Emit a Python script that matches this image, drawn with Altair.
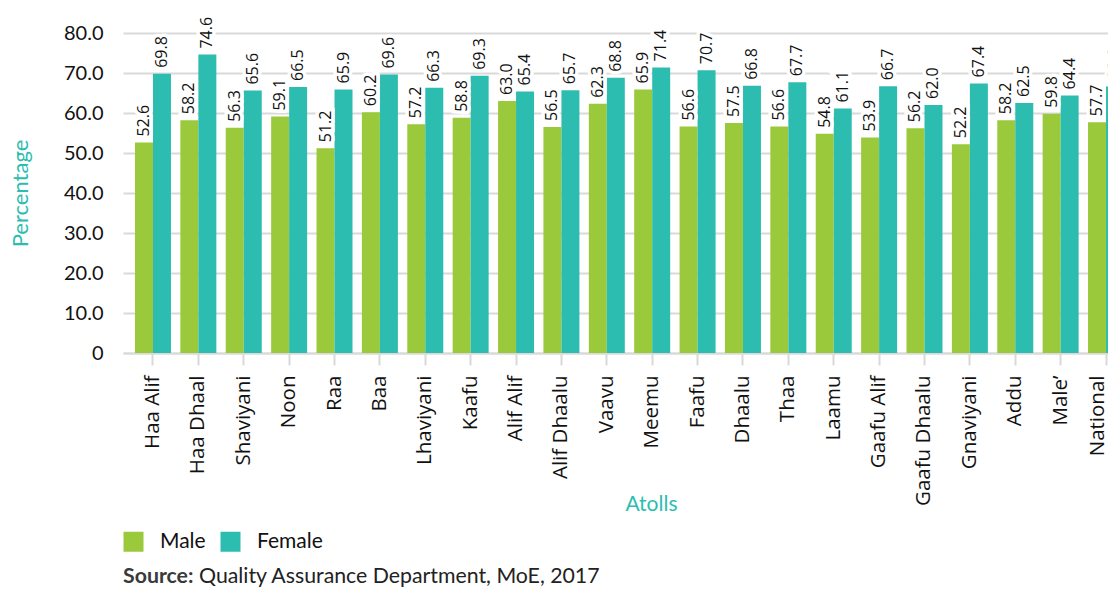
import altair as alt
import pandas as pd

atolls = ["Haa Alif", "Haa Dhaal", "Shaviyani", "Noon", "Raa", "Baa", "Lhaviyani",
          "Kaafu", "Alif Alif", "Alif Dhaalu", "Vaavu", "Meemu", "Faafu", "Dhaalu",
          "Thaa", "Laamu", "Gaafu Alif", "Gaafu Dhaalu", "Gnaviyani", "Addu",
          "Male\u2019", "National"]
male = [52.6, 58.2, 56.3, 59.1, 51.2, 60.2, 57.2, 58.8, 63.0, 56.5, 62.3,
        65.9, 56.6, 57.5, 56.6, 54.8, 53.9, 56.2, 52.2, 58.2, 59.8, 57.7]
female = [69.8, 74.6, 65.6, 66.5, 65.9, 69.6, 66.3, 69.3, 65.4, 65.7, 68.8,
          71.4, 70.7, 66.8, 67.7, 61.1, 66.7, 62.0, 67.4, 62.5, 64.4, 66.6]
genders = ["Male", "Female"]
colors = ["#9BC93C", "#2CBDB0"]
y_ticks = [0, 10, 20, 30, 40, 50, 60, 70, 80]

rows = []
for a, m, f in zip(atolls, male, female):
    rows.append({"Atoll": a, "Gender": "Male", "Value": m})
    rows.append({"Atoll": a, "Gender": "Female", "Value": f})
df = pd.DataFrame(rows)

x_enc = alt.X(
    "Atoll:N", sort=atolls,
    scale=alt.Scale(range=[0, 1013], paddingInner=0.207, paddingOuter=0.264),
    axis=alt.Axis(
        title="Atolls", titleColor="#2CBDB0", titleFont="Lato", titleFontSize=21,
        titleFontWeight="normal", titleX=528, titleY=151, titleAlign="center",
        titleBaseline="middle", labelAngle=270, labelFont="Open Sans",
        labelFontSize=20.5, labelColor="#111111", labelPadding=10, tickSize=12,
        tickColor="#d9d9d9", tickWidth=2, domainColor="#d9d9d9", domainWidth=2,
        grid=False, labelAlign="right", labelBaseline="middle",
        labelOffset={"condition": {"test": "datum.value === 'National'", "value": -8},
                     "value": 0},
    ),
)
xo_enc = alt.XOffset("Gender:N", sort=genders,
                     scale=alt.Scale(paddingInner=0, paddingOuter=0))
y_enc = alt.Y(
    "Value:Q",
    scale=alt.Scale(domain=[0, 80], nice=False),
    axis=alt.Axis(
        values=y_ticks,
        labelExpr="datum.value == 0 ? '0' : format(datum.value, '.1f')",
        title="Percentage", titleColor="#2CBDB0", titleFont="Lato",
        titleFontSize=22, titleFontWeight="normal", titleAngle=270,
        titleX=-103, titleY=160, titleAlign="center", titleBaseline="middle",
        labelFont="Lato", labelFontSize=20, labelColor="#111111",
        labelPadding=20, ticks=False, domain=False, grid=True,
        gridColor="#d9d9d9", gridWidth=2,
    ),
)

base = alt.Chart(df)

bars = base.mark_bar().encode(
    x=x_enc, xOffset=xo_enc, y=y_enc,
    color=alt.Color(
        "Gender:N", sort=genders,
        scale=alt.Scale(domain=genders, range=colors),
        legend=alt.Legend(
            title=None, orient="none", legendX=0, legendY=498,
            direction="horizontal", symbolType="square", symbolSize=400,
            symbolStrokeWidth=0, labelFont="Lato", labelFontSize=21,
            labelColor="#111111", labelOffset=16, columnPadding=14, padding=0,
        ),
    ),
)

halo = base.mark_text(
    angle=270, align="left", baseline="middle", dx=6, font="Open Sans",
    fontSize=16, color="white", stroke="white", strokeWidth=7,
).encode(x=x_enc, xOffset=xo_enc, y=y_enc,
         text=alt.Text("Value:Q", format=".1f"))

labels = base.mark_text(
    angle=270, align="left", baseline="middle", dx=6, font="Open Sans",
    fontSize=16, color="#111111",
).encode(x=x_enc, xOffset=xo_enc, y=y_enc,
         text=alt.Text("Value:Q", format=".1f"))

src_bold = alt.Chart(pd.DataFrame({"t": ["Source:"]})).mark_text(
    align="left", baseline="alphabetic", font="Lato", fontSize=21.3,
    fontWeight="bold", color="#3a3a3a",
).encode(x=alt.value(0), y=alt.value(550), text="t:N")

src_rest = alt.Chart(pd.DataFrame({"t": ["Quality Assurance Department, MoE, 2017"]})).mark_text(
    align="left", baseline="alphabetic", font="Lato", fontSize=21.3,
    color="#222222",
).encode(x=alt.value(76), y=alt.value(550), text="t:N")

chart = alt.layer(bars, halo, labels, src_bold, src_rest).properties(
    width=985, height=320,
    autosize=alt.AutoSizeParams(type="none"),
    padding={"left": 115, "top": 25, "right": 0, "bottom": 237},
).configure_view(stroke=None)

chart.save("out.html", embed_options={"renderer": "svg", "actions": False})
